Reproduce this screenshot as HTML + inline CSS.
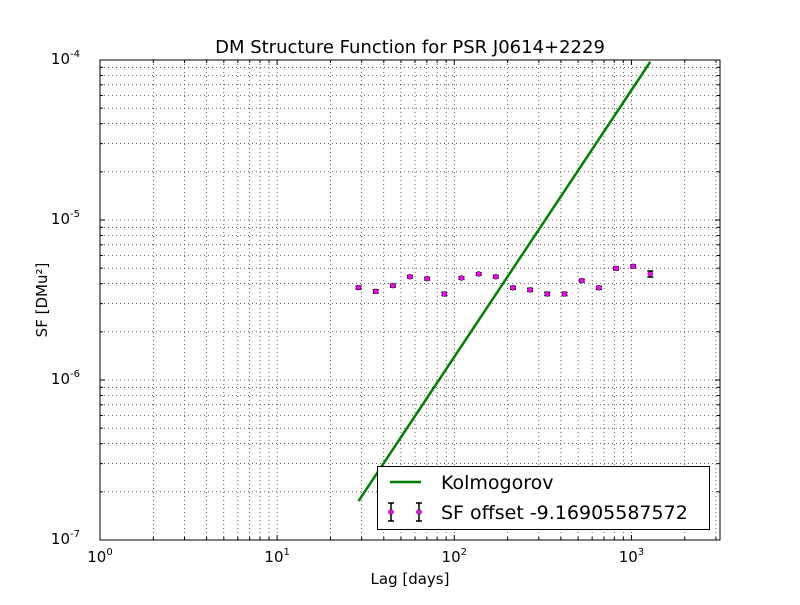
<!DOCTYPE html>
<html><head><meta charset="utf-8"><style>
body{margin:0;background:#fff;font-family:"Liberation Sans","DejaVu Sans",sans-serif}
</style></head><body>
<svg id="chart" width="800" height="600" xmlns="http://www.w3.org/2000/svg" font-family="DejaVu Sans, Liberation Sans, sans-serif">
<rect width="800" height="600" fill="#fff"/>
<g id="grid"></g>
<g id="series"></g>
<rect x="100" y="60" width="620" height="480" fill="none" stroke="#000" stroke-width="1"/>
<g id="ticks"></g>
<text x="410" y="53" text-anchor="middle" font-size="18">DM Structure Function for PSR J0614+2229</text>
<text x="410" y="584" text-anchor="middle" font-size="15">Lag [days]</text>
<text transform="translate(47,300) rotate(-90)" text-anchor="middle" font-size="15">SF [DMu²]</text>
<g>
<rect x="377.5" y="466.5" width="332" height="63" fill="#fff" stroke="#000"/>
<line x1="390" y1="482" x2="421" y2="482" stroke="#008000" stroke-width="2.5"/>
<text x="441" y="489" font-size="19">Kolmogorov</text>
<g>
<line x1="391" y1="503" x2="391" y2="521" stroke="#000" stroke-width="1.5"/><line x1="388" y1="503" x2="394" y2="503" stroke="#000" stroke-width="1.5"/><line x1="388" y1="521" x2="394" y2="521" stroke="#000" stroke-width="1.5"/><circle cx="391" cy="512" r="2.5" fill="#f0f" stroke="#000" stroke-width="0.5"/>
<line x1="419" y1="503" x2="419" y2="521" stroke="#000" stroke-width="1.5"/><line x1="416" y1="503" x2="422" y2="503" stroke="#000" stroke-width="1.5"/><line x1="416" y1="521" x2="422" y2="521" stroke="#000" stroke-width="1.5"/><circle cx="419" cy="512" r="2.5" fill="#f0f" stroke="#000" stroke-width="0.5"/>
</g>
<text x="441" y="519" font-size="19">SF offset -9.16905587572</text>
</g>
</svg>
<script>
const lags=[28.8,36,45,56.2,70.3,87.9,109.8,137.3,171.6,214.5,268,335,419,524,655,818,1023,1278];
const sfValues=[3.78e-6,3.58e-6,3.89e-6,4.42e-6,4.30e-6,3.45e-6,4.34e-6,4.60e-6,4.42e-6,3.77e-6,3.66e-6,3.45e-6,3.45e-6,4.18e-6,3.77e-6,4.98e-6,5.13e-6,4.60e-6];
const sfErrors=[0.08e-6,0.08e-6,0.08e-6,0.08e-6,0.08e-6,0.08e-6,0.08e-6,0.08e-6,0.08e-6,0.08e-6,0.08e-6,0.08e-6,0.08e-6,0.08e-6,0.08e-6,0.1e-6,0.1e-6,0.2e-6];
const kolmoLags=[28.8,1278];
const kolmoAmp=[1.75e-7];
const kolmoSlope=[1.667];
const xTickExps=[0,1,2,3];
const yTickExps=[-7,-6,-5,-4];
const NS="http://www.w3.org/2000/svg";
const X0=100,X1=720,Y0=540,Y1=60,XMIN=0,XMAX=3.5,YMIN=-7,YMAX=-4;
const sx=v=>X0+(Math.log10(v)-XMIN)/(XMAX-XMIN)*(X1-X0);
const sy=v=>Y0-(Math.log10(v)-YMIN)/(YMAX-YMIN)*(Y0-Y1);
function mk(tag,at,parent){const e=document.createElementNS(NS,tag);for(const k in at)e.setAttribute(k,at[k]);parent.appendChild(e);return e;}
const grid=document.getElementById('grid'),ticks=document.getElementById('ticks'),ser=document.getElementById('series');
for(let d=0;d<=3;d++)for(let m=1;m<=9;m++){const v=m*Math.pow(10,d);if(Math.log10(v)>XMAX)break;const x=sx(v);
const g=mk('line',{x1:x,x2:x,y1:Y1,y2:Y0,stroke:'#000','stroke-width':0.6,'stroke-dasharray':'1,3'},grid);


const L=m==1?5:3;mk('line',{x1:x,x2:x,y1:Y0,y2:Y0-L,stroke:'#000'},ticks);mk('line',{x1:x,x2:x,y1:Y1,y2:Y1+L,stroke:'#000'},ticks);}
for(let d=-7;d<-4;d++)for(let m=1;m<=9;m++){const v=m*Math.pow(10,d);const y=sy(v);
const g=mk('line',{x1:X0,x2:X1,y1:y,y2:y,stroke:'#000','stroke-width':0.6,'stroke-dasharray':'1,3'},grid);


const L=m==1?5:3;mk('line',{x1:X0,x2:X0+L,y1:y,y2:y,stroke:'#000'},ticks);mk('line',{x1:X1,x2:X1-L,y1:y,y2:y,stroke:'#000'},ticks);}
xTickExps.forEach(e=>{const t=mk('text',{x:sx(Math.pow(10,e)),y:Y0+22,'text-anchor':'middle','font-size':15},ticks);


t.innerHTML='10<tspan font-size="10" dy="-7">'+e+'</tspan>';});
yTickExps.forEach(e=>{const t=mk('text',{x:X0-20,y:sy(Math.pow(10,e))+4,'text-anchor':'end','font-size':15},ticks);


t.innerHTML='10<tspan font-size="10" dy="-7">'+e+'</tspan>';});
const p=kolmoLags.map(l=>sx(l)+','+sy(kolmoAmp[0]*Math.pow(l/kolmoLags[0],kolmoSlope[0]))).join(' ');
const kl=mk('polyline',{points:p,fill:'none',stroke:'#008000','stroke-width':2.5},ser);


lags.forEach((l,i)=>{const x=sx(l),yt=sy(sfValues[i]+sfErrors[i]),yb=sy(sfValues[i]-sfErrors[i]);
const g=mk('g',{},ser);


mk('line',{x1:x,x2:x,y1:yt,y2:yb,stroke:'#000','stroke-width':1.5},g);
mk('line',{x1:x-3,x2:x+3,y1:yt,y2:yt,stroke:'#000','stroke-width':1.5},g);
mk('line',{x1:x-3,x2:x+3,y1:yb,y2:yb,stroke:'#000','stroke-width':1.5},g);
mk('circle',{cx:x,cy:sy(sfValues[i]),r:2.5,fill:'#f0f',stroke:'#000','stroke-width':0.5},g);});
</script>
</body></html>
